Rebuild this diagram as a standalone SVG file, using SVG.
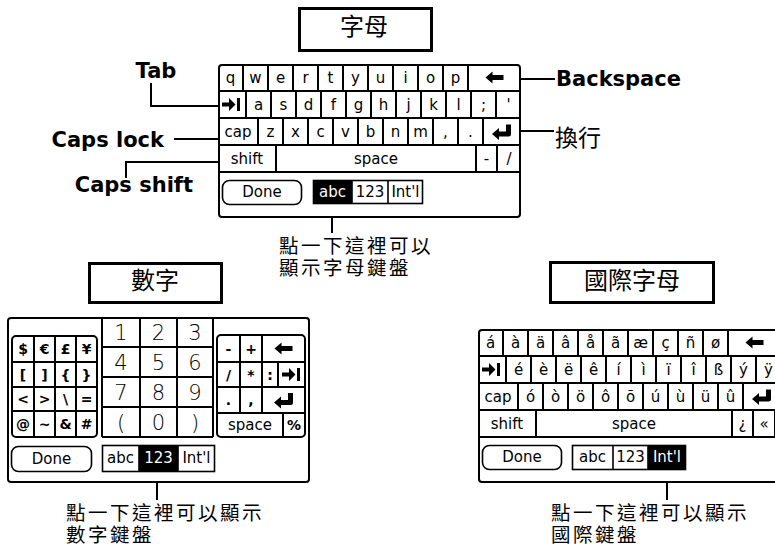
<svg xmlns="http://www.w3.org/2000/svg" xmlns:xlink="http://www.w3.org/1999/xlink" width="775" height="548" viewBox="0 0 775 548">
<style>
.f{fill:#fff;stroke:#000;stroke-width:2}
.k{fill:none;stroke:#000;stroke-width:2}
.btn{fill:#fff;stroke:#000;stroke-width:1.6}
.t{font-family:"DejaVu Sans",sans-serif;font-size:15px;text-anchor:middle;fill:#000}
.s{font-family:"DejaVu Sans",sans-serif;font-size:14px;font-weight:bold;text-anchor:middle;fill:#000}
.d{font-family:"DejaVu Sans",sans-serif;font-size:21px;font-weight:200;text-anchor:middle;fill:#000}
.wt{fill:#fff}
.lbl{font-family:"DejaVu Sans",sans-serif;font-weight:bold;font-size:21px;fill:#000}
.cjk{font-family:"Liberation Sans","Noto Sans CJK TC","Noto Sans CJK SC",sans-serif;font-size:19.5px;letter-spacing:2.5px;fill:#000}
.cjk2{font-family:"Noto Sans CJK TC","Noto Sans CJK SC",sans-serif;font-size:23px;fill:#000}
.ttl{font-family:"Noto Sans CJK TC","Noto Sans CJK SC",sans-serif;font-size:24px;text-anchor:middle;fill:#000}
.box{fill:#fff;stroke:#000;stroke-width:3}
.c{fill:none;stroke:#000;stroke-width:2}
</style>
<defs>
<path id="bs" d="M-9,0 L-2,-6 V-2.5 H9 V2.5 H-2 V6 Z" fill="#000"/>
<path id="tab" d="M-10,-2 H-3 V-6.5 L3.5,0 L-3,6.5 V2 H-10 Z M5,-6.5 H8 V6.5 H5 Z" fill="#000"/>
<path id="ent" d="M-10,2.5 L-3,-3.5 V0 H4 V-7 H9 V2.5 Q9,5 6.5,5 H-3 V8.5 Z" fill="#000"/>
</defs>
<rect width="775" height="548" fill="#fff"/>

<g id="title-abc"><rect class="box" x="299.5" y="8.5" width="132" height="42"/><text class="ttl" x="364" y="35">字母</text></g>
<g id="title-123"><rect class="box" x="89.5" y="263.5" width="132" height="39"/><text class="ttl" x="155" y="289">數字</text></g>
<g id="title-intl"><rect class="box" x="550.5" y="262.5" width="163" height="40"/><text class="ttl" x="632" y="289">國際字母</text></g>

<g id="kb-abc" transform="translate(218,64)">
<rect class="f" x="1" y="1" width="301" height="152" rx="3"/>
<path class="k" d="M1,27H302M1,54H302M1,81H302M1,108H302M25,1V27M50,1V27M75,1V27M100,1V27M125,1V27M150,1V27M175,1V27M200,1V27M225,1V27M250,1V27M28,27V54M53,27V54M78,27V54M103,27V54M128,27V54M153,27V54M178,27V54M203,27V54M228,27V54M253,27V54M278,27V54M40,54V81M65,54V81M90,54V81M115,54V81M140,54V81M165,54V81M190,54V81M215,54V81M240,54V81M265,54V81M58,81V108M258,81V108M279,81V108"/>
<text class="t" x="12.5" y="18.5">q</text><text class="t" x="37.5" y="18.5">w</text><text class="t" x="62.5" y="18.5">e</text><text class="t" x="87.5" y="18.5">r</text><text class="t" x="112.5" y="18.5">t</text><text class="t" x="137.5" y="18.5">y</text><text class="t" x="162.5" y="18.5">u</text><text class="t" x="187.5" y="18.5">i</text><text class="t" x="212.5" y="18.5">o</text><text class="t" x="237.5" y="18.5">p</text>
<use href="#bs" x="276.5" y="13.5"/>
<use href="#tab" x="14" y="40.5"/>
<text class="t" x="40.5" y="45.5">a</text><text class="t" x="65.5" y="45.5">s</text><text class="t" x="90.5" y="45.5">d</text><text class="t" x="115.5" y="45.5">f</text><text class="t" x="140.5" y="45.5">g</text><text class="t" x="165.5" y="45.5">h</text><text class="t" x="190.5" y="45.5">j</text><text class="t" x="215.5" y="45.5">k</text><text class="t" x="240.5" y="45.5">l</text><text class="t" x="265.5" y="45.5">;</text><text class="t" x="290.5" y="45.5">'</text>
<text class="t" x="20" y="72.5">cap</text><text class="t" x="52.5" y="72.5">z</text><text class="t" x="77.5" y="72.5">x</text><text class="t" x="102.5" y="72.5">c</text><text class="t" x="127.5" y="72.5">v</text><text class="t" x="152.5" y="72.5">b</text><text class="t" x="177.5" y="72.5">n</text><text class="t" x="202.5" y="72.5">m</text><text class="t" x="227.5" y="72.5">,</text><text class="t" x="252.5" y="72.5">.</text>
<use href="#ent" x="284" y="67.5"/>
<text class="t" x="29" y="99.5">shift</text><text class="t" x="158" y="99.5">space</text><text class="t" x="268.5" y="99.5">-</text><text class="t" x="291" y="99.5">/</text>
<rect class="btn" x="4.5" y="116.5" width="79" height="24" rx="7"/>
<text class="t" x="44" y="133">Done</text>
<rect x="95" y="116" width="39" height="24" fill="#000"/>
<rect class="btn" x="95.5" y="116.5" width="109" height="23" style="fill:none"/>
<path class="btn" d="M134,116.5V139.5M170,116.5V139.5"/>
<text class="t wt" x="114.5" y="133">abc</text><text class="t" x="152" y="133">123</text><text class="t" x="187.5" y="133">Int'l</text>
</g>

<g id="kb-123">
<rect class="f" x="8" y="318" width="301" height="164" rx="3"/>
<path class="k" d="M102,318V437M140,318V437M177,318V437M213,318V437M102,347H213M102,377H213M102,407H213M102,437H213"/>
<text class="d" x="121" y="340">1</text><text class="d" x="158.5" y="340">2</text><text class="d" x="195" y="340">3</text>
<text class="d" x="121" y="370">4</text><text class="d" x="158.5" y="370">5</text><text class="d" x="195" y="370">6</text>
<text class="d" x="121" y="400">7</text><text class="d" x="158.5" y="400">8</text><text class="d" x="195" y="400">9</text>
<text class="d" x="121" y="430">(</text><text class="d" x="158.5" y="430">0</text><text class="d" x="195" y="430">)</text>
<rect class="f" x="12" y="336" width="85" height="101" rx="4"/>
<path class="k" d="M34,336V437M55,336V437M76,336V437M12,362H97M12,387H97M12,411H97"/>
<text class="s" x="23" y="354">$</text><text class="s" x="44.5" y="354">€</text><text class="s" x="65.5" y="354">£</text><text class="s" x="86.5" y="354">¥</text>
<text class="s" x="23" y="379.5">[</text><text class="s" x="44.5" y="379.5">]</text><text class="s" x="65.5" y="379.5">{</text><text class="s" x="86.5" y="379.5">}</text>
<text class="s" x="23" y="404">&lt;</text><text class="s" x="44.5" y="404">&gt;</text><text class="s" x="65.5" y="404">\</text><text class="s" x="86.5" y="404">=</text>
<text class="s" x="23" y="429">@</text><text class="s" x="44.5" y="429">~</text><text class="s" x="65.5" y="429">&amp;</text><text class="s" x="86.5" y="429">#</text>
<rect class="f" x="217" y="335" width="88" height="102" rx="4"/>
<path class="k" d="M217,362H305M217,387H305M217,413H305M240,335V413M262,335V413M278,362V387M283,413V437"/>
<text class="s" x="228.5" y="353.5">-</text><text class="s" x="251" y="353.5">+</text>
<use href="#bs" x="283.5" y="348.5"/>
<text class="s" x="228.5" y="379.5">/</text><text class="s" x="251" y="379.5">*</text><text class="s" x="270" y="379.5">:</text>
<use href="#tab" x="292" y="374.5"/>
<text class="s" x="228.5" y="405">.</text><text class="s" x="251" y="405">,</text>
<use href="#ent" x="284" y="400"/>
<text class="t" x="250" y="430">space</text><text class="s" x="294" y="430">%</text>
<rect class="btn" x="11.5" y="446.5" width="80" height="25" rx="7"/>
<text class="t" x="51.5" y="464">Done</text>
<rect x="139" y="445" width="39" height="27" fill="#000"/>
<rect class="btn" x="102.5" y="445.5" width="112" height="26" style="fill:none"/>
<path class="btn" d="M139,445.5V471.5M178,445.5V471.5"/>
<text class="t" x="120.5" y="463">abc</text><text class="t wt" x="158.5" y="463">123</text><text class="t" x="196.5" y="463">Int'l</text>
</g>

<g id="kb-intl" transform="translate(478,329)">
<rect class="f" x="1" y="1" width="301" height="152" rx="3"/>
<path class="k" d="M1,27H302M1,54H302M1,81H302M1,108H302M25,1V27M50,1V27M75,1V27M100,1V27M125,1V27M150,1V27M175,1V27M200,1V27M225,1V27M250,1V27M28,27V54M53,27V54M78,27V54M103,27V54M128,27V54M153,27V54M178,27V54M203,27V54M228,27V54M253,27V54M278,27V54M40,54V81M65,54V81M90,54V81M115,54V81M140,54V81M165,54V81M190,54V81M215,54V81M240,54V81M265,54V81M58,81V108M254,81V108M275,81V108M297,81V108"/>
<text class="t" x="12.5" y="18.5">á</text><text class="t" x="37.5" y="18.5">à</text><text class="t" x="62.5" y="18.5">ä</text><text class="t" x="87.5" y="18.5">â</text><text class="t" x="112.5" y="18.5">å</text><text class="t" x="137.5" y="18.5">ã</text><text class="t" x="162.5" y="18.5">æ</text><text class="t" x="187.5" y="18.5">ç</text><text class="t" x="212.5" y="18.5">ñ</text><text class="t" x="237.5" y="18.5">ø</text>
<use href="#bs" x="276.5" y="13.5"/>
<use href="#tab" x="14" y="40.5"/>
<text class="t" x="40.5" y="45.5">é</text><text class="t" x="65.5" y="45.5">è</text><text class="t" x="90.5" y="45.5">ë</text><text class="t" x="115.5" y="45.5">ê</text><text class="t" x="140.5" y="45.5">í</text><text class="t" x="165.5" y="45.5">ì</text><text class="t" x="190.5" y="45.5">ï</text><text class="t" x="215.5" y="45.5">î</text><text class="t" x="240.5" y="45.5">ß</text><text class="t" x="265.5" y="45.5">ý</text><text class="t" x="290.5" y="45.5">ÿ</text>
<text class="t" x="20" y="72.5">cap</text><text class="t" x="52.5" y="72.5">ó</text><text class="t" x="77.5" y="72.5">ò</text><text class="t" x="102.5" y="72.5">ö</text><text class="t" x="127.5" y="72.5">ô</text><text class="t" x="152.5" y="72.5">õ</text><text class="t" x="177.5" y="72.5">ú</text><text class="t" x="202.5" y="72.5">ù</text><text class="t" x="227.5" y="72.5">ü</text><text class="t" x="252.5" y="72.5">û</text>
<use href="#ent" x="284" y="67.5"/>
<text class="t" x="29" y="99.5">shift</text><text class="t" x="156" y="99.5">space</text><text class="t" x="264.5" y="99.5">¿</text><text class="t" x="286" y="99.5">«</text>
<rect class="btn" x="4.5" y="116.5" width="79" height="24" rx="7"/>
<text class="t" x="44" y="133">Done</text>
<rect x="170" y="116" width="38" height="25" fill="#000"/>
<rect class="btn" x="94.5" y="116.5" width="113" height="24" style="fill:none"/>
<path class="btn" d="M135,116.5V140.5M170,116.5V140.5"/>
<text class="t" x="114.5" y="133">abc</text><text class="t" x="152.5" y="133">123</text><text class="t wt" x="189" y="133">Int'l</text>
</g>

<g id="label-tab"><text class="lbl" x="156" y="78" text-anchor="middle">Tab</text></g>
<g id="label-capslock"><text class="lbl" x="164" y="147" text-anchor="end">Caps lock</text></g>
<g id="label-capsshift"><text class="lbl" x="193" y="192" text-anchor="end">Caps shift</text></g>
<g id="label-backspace"><text class="lbl" x="556" y="86">Backspace</text></g>
<g id="label-enter"><text class="cjk2" x="555" y="146">換行</text></g>
<g id="note-abc"><text class="cjk" x="279" y="253">點一下這裡可以</text><text class="cjk" x="279" y="275">顯示字母鍵盤</text></g>
<g id="note-123"><text class="cjk" x="66" y="520">點一下這裡可以顯示</text><text class="cjk" x="66" y="542">數字鍵盤</text></g>
<g id="note-intl"><text class="cjk" x="551" y="520">點一下這裡可以顯示</text><text class="cjk" x="551" y="542">國際鍵盤</text></g>

<g id="connectors">
<path class="c" d="M151,83V106H218"/>
<path class="c" d="M174,139H218"/>
<path class="c" d="M218,162H126V178"/>
<path class="c" d="M521,79H555"/>
<path class="c" d="M521,131H554"/>
<path class="c" d="M332,217V233"/>
<path class="c" d="M157,482V500"/>
<path class="c" d="M667,482V500"/>
</g>
</svg>
